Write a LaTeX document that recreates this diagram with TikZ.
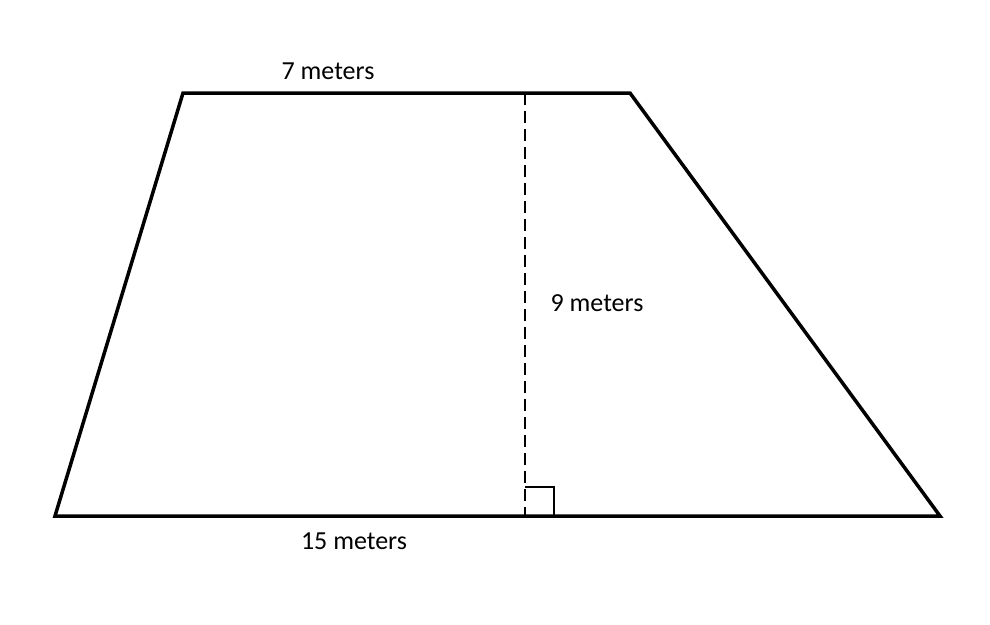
\documentclass[tikz,border=0pt]{standalone}
\usepackage{fontspec}
\setmainfont{Carlito}
\begin{document}
\begin{tikzpicture}[x=1pt,y=-1pt,
  edge/.style={line width=3.5pt,line join=miter},
  lbl/.style={font=\fontsize{26}{30}\selectfont,inner sep=0pt}]
\useasboundingbox (0,0) rectangle (990,624);
\coordinate (tl) at (183,93);
\coordinate (tr) at (630,93);
\coordinate (br) at (940,516);
\coordinate (bl) at (55,516);
\coordinate (ht) at (525,93);
\coordinate (hb) at (525,516);
\draw[line width=2.5pt,dash pattern=on 12pt off 6pt] (ht) -- (hb);
\draw[line width=2pt] (525,487) -- (554,487) -- (554,516);
\draw[edge] (tl) -- (tr) -- (br) -- (bl) -- cycle;
\node[lbl] (top) at (328,71) {7 meters};
\node[lbl] (h) at (597,303) {9 meters};
\node[lbl] (bot) at (354,541) {15 meters};
\end{tikzpicture}
\end{document}
